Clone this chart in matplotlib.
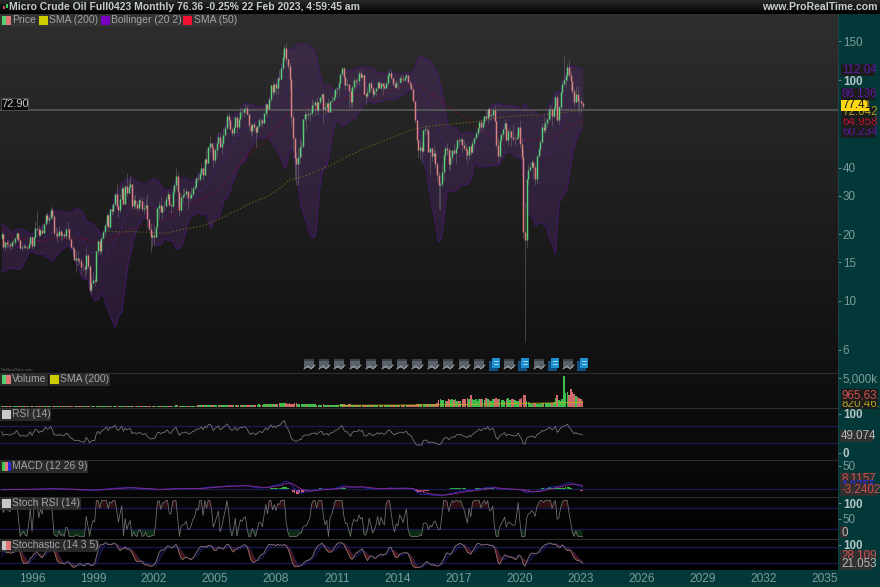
import numpy as np
import matplotlib
matplotlib.use("Agg")
import matplotlib.pyplot as plt
from matplotlib.patches import Rectangle

plt.rcParams['font.family'] = ['Liberation Sans', 'DejaVu Sans']

# ---- history before the visible window (Mar 1983 - Jun 1994), closes only
early_close = [30.6,30.6,30.0,31.0,31.7,31.9,30.3,30.2,29.3,29.2,
 29.7,30.6,30.8,30.4,30.3,29.8,27.9,29.3,29.5,28.2,27.5,26.4,
 26.4,27.5,28.2,27.9,27.9,26.7,27.1,28.0,29.0,30.8,30.2,26.3,
 18.8,13.3,10.4,13.3,14.3,12.8,11.2,15.6,14.8,15.3,15.0,17.9,
 18.0,16.6,18.8,18.7,19.4,20.3,21.3,19.7,19.6,20.2,18.2,16.7,
 17.1,16.1,17.0,17.6,17.4,15.5,16.0,15.2,14.1,13.7,15.4,17.2,
 17.9,17.6,20.5,20.6,19.8,20.3,18.6,19.6,20.2,19.8,20.8,21.8,
 22.7,21.5,20.3,18.6,17.4,17.1,20.7,27.2,39.5,35.2,28.9,28.4,
 21.5,19.2,19.6,20.9,21.2,20.5,21.7,22.4,22.4,23.4,21.5,19.1,
 19.0,19.0,19.6,20.7,21.5,21.6,21.9,21.4,21.7,20.6,19.6,19.5,
 20.3,20.6,20.4,20.5,19.9,18.6,17.6,18.3,17.6,16.9,15.2,14.2,
 15.2,14.7,14.6,16.9,18.3,19.3]

# ---- visible monthly candles, Jul 1994 - Feb 2023
close = [20.0,17.6,18.4,18.2,18.1,17.8,
 18.4,18.5,19.2,20.4,18.9,17.4,17.6,17.8,17.5,17.4,18.2,19.5,
 17.7,19.5,21.5,21.2,19.8,20.9,20.4,22.2,24.4,23.3,23.8,25.9,
 24.2,20.3,20.4,19.7,20.8,19.8,20.1,19.6,21.2,21.1,19.0,17.6,
 17.2,15.4,15.6,15.4,15.2,14.2,14.2,13.9,16.1,14.4,11.2,12.1,
 12.5,12.3,16.8,18.7,16.8,19.3,20.5,22.1,24.5,21.7,26.1,25.6,
 27.6,30.4,26.9,25.7,29.0,32.5,27.4,33.1,30.8,32.7,33.8,26.8,
 28.7,27.4,26.3,28.5,28.4,26.2,26.4,27.2,23.4,21.2,19.4,19.8,
 19.5,21.7,26.3,27.3,25.3,26.9,27.0,28.9,30.5,27.2,26.9,31.2,
 33.5,36.6,31.0,25.8,29.6,30.2,30.5,31.6,29.2,29.1,30.4,32.5,
 33.1,36.2,35.8,37.4,39.9,37.1,43.8,42.1,49.6,51.8,49.1,43.5,
 48.2,51.8,55.4,49.7,52.0,56.5,60.6,69.0,66.2,59.8,57.3,61.0,
 67.9,61.4,66.6,71.9,71.3,73.9,74.4,70.3,62.9,58.7,63.1,61.0,
 58.1,61.8,65.9,65.8,64.0,70.7,78.2,74.0,81.7,94.5,88.7,96.0,
 92.0,101.8,101.6,113.5,127.4,140.0,124.1,115.5,100.6,67.8,54.4,44.6,
 41.7,44.8,49.7,50.4,66.3,69.9,69.5,70.0,70.6,77.0,77.3,79.4,
 72.9,79.7,83.8,86.2,74.0,75.6,78.9,71.9,80.0,81.4,84.1,91.4,
 92.2,97.0,106.7,113.9,102.7,95.4,95.7,88.8,79.2,93.2,100.4,98.8,
 98.5,107.1,103.0,104.9,86.5,85.0,88.1,96.5,92.2,86.2,88.9,91.8,
 97.5,92.1,97.2,93.5,92.0,96.6,105.0,107.7,102.3,96.4,92.7,98.4,
 97.5,102.6,101.6,99.7,102.7,105.4,98.2,96.0,91.2,80.5,66.2,53.3,
 48.2,49.8,47.6,59.6,60.3,59.5,47.1,49.2,45.1,46.6,41.7,37.0,
 33.6,33.8,38.3,45.9,49.1,48.3,41.6,44.7,48.2,46.9,49.4,53.7,
 52.8,54.0,50.6,49.3,48.3,46.0,50.2,47.2,51.7,54.4,57.4,60.4,
 64.7,61.6,64.9,68.6,67.0,74.1,68.8,69.8,73.2,65.3,50.9,45.4,
 53.8,57.2,60.1,63.9,53.5,58.5,58.6,55.1,54.1,54.2,55.2,61.1,
 51.6,44.8,20.5,18.8,35.5,39.3,40.3,42.6,40.2,35.8,45.3,48.5,
 52.2,61.5,59.2,63.6,66.3,73.5,73.9,68.5,75.0,83.6,66.2,75.2,
 88.2,95.7,100.3,104.7,114.7,105.8,98.6,89.6,79.5,86.5,80.6,80.3,
 78.9,76.4]

high = [20.8,20.4,18.6,18.9,18.9,18.4,
 18.9,19.0,19.3,20.6,20.4,19.0,17.9,18.2,18.2,17.8,18.4,19.6,
 19.6,19.6,23.0,25.5,22.0,21.3,22.4,22.4,25.0,25.4,24.5,26.5,
 26.6,24.5,21.7,20.9,21.9,21.0,20.6,20.6,21.4,22.8,21.5,18.8,
 17.8,17.3,16.8,16.9,15.7,15.6,14.9,14.5,17.4,16.4,14.6,13.0,
 13.5,12.8,17.0,18.9,18.8,19.3,20.9,22.6,25.0,24.8,26.2,27.2,
 27.9,30.9,34.1,27.4,30.4,33.4,32.7,33.4,37.8,35.0,36.7,34.0,
 30.2,30.4,28.4,28.9,29.7,29.6,27.8,29.0,30.6,23.4,22.2,20.5,
 22.0,21.9,26.6,28.4,29.4,27.1,28.2,29.8,31.4,30.4,28.1,32.6,
 34.0,39.9,38.2,30.5,30.5,32.4,32.3,32.4,30.0,31.6,32.7,33.2,
 35.2,36.9,38.3,38.6,42.4,40.3,44.4,48.7,50.5,55.6,50.5,46.4,
 49.3,52.0,58.3,57.7,53.4,60.9,62.3,70.8,70.9,64.2,61.2,62.1,
 69.2,68.0,67.2,75.4,74.9,74.0,78.4,76.9,70.2,60.9,63.2,64.6,
 58.9,62.3,68.1,67.0,66.4,70.9,78.8,76.5,83.9,96.2,99.3,96.8,
 100.1,103.0,111.8,119.9,135.1,143.7,147.3,126.0,121.0,102.0,71.0,55.0,
 47.0,49.0,54.7,53.2,66.4,73.4,71.9,75.0,73.2,82.0,80.0,81.4,
 83.9,80.5,84.0,87.1,87.1,79.4,79.4,82.8,80.6,84.9,89.0,91.8,
 92.6,99.5,107.0,114.8,115.0,101.6,100.6,95.4,92.0,94.7,103.4,101.0,
 103.7,109.9,110.5,106.3,106.4,85.9,92.9,98.3,100.4,92.9,90.0,92.0,
 98.2,97.8,97.8,97.2,96.9,99.0,108.9,112.2,110.7,103.0,95.7,100.0,
 98.4,104.0,105.2,104.9,104.2,107.7,105.7,98.0,95.4,92.5,78.9,66.6,
 54.0,54.2,52.5,59.9,62.6,61.9,59.5,49.3,49.0,50.9,48.0,42.6,
 38.4,34.5,41.9,46.8,50.2,51.7,49.0,48.8,48.3,51.9,49.9,54.5,
 55.2,54.9,54.5,53.7,52.0,48.9,50.4,50.2,52.9,55.2,59.0,60.5,
 66.7,66.7,66.6,69.6,72.9,74.5,75.3,71.4,74.0,76.9,65.7,54.6,
 55.8,57.8,60.7,66.6,63.9,60.9,60.9,57.5,63.4,56.9,58.7,61.4,
 65.6,54.7,48.7,28.0,35.9,41.6,42.5,43.7,43.0,41.8,46.0,49.0,
 53.9,63.8,67.9,65.4,67.0,74.4,76.2,73.3,76.0,85.4,84.9,76.9,
 88.8,100.5,130.0,108.0,120.0,123.7,110.0,97.7,92.0,93.6,93.7,83.3,
 82.6,80.6]

low = [19.0,17.2,16.9,17.4,17.5,17.0,
 17.4,18.2,18.0,19.0,18.7,17.2,16.8,17.2,17.3,17.0,17.4,18.2,
 17.2,17.5,19.2,20.8,19.4,19.6,20.2,20.3,22.0,22.6,22.4,23.7,
 23.6,19.8,19.2,18.5,19.7,18.6,19.0,19.2,19.0,20.6,18.9,17.4,
 16.0,15.3,13.5,14.6,14.7,13.3,13.7,12.8,13.3,13.9,11.0,10.7,
 11.9,11.7,12.1,16.1,16.4,16.4,19.0,19.6,21.8,21.0,21.2,24.4,
 24.7,27.0,26.2,23.7,25.0,28.5,27.1,27.5,29.9,31.1,32.6,26.0,
 26.2,26.3,25.6,25.7,26.9,25.6,24.8,25.9,21.5,20.9,16.7,17.5,
 17.9,19.4,21.4,23.5,25.2,23.5,25.6,26.4,28.3,26.9,25.1,26.4,
 30.5,32.2,26.8,24.3,25.2,28.1,29.6,29.6,26.0,28.3,29.5,30.0,
 32.1,32.2,34.8,34.8,37.3,35.3,36.7,41.6,41.7,47.0,45.6,40.3,
 42.1,45.0,51.2,49.0,46.2,52.0,55.3,60.0,62.0,59.5,55.7,56.0,
 60.8,57.5,59.9,66.0,68.5,68.1,71.0,69.4,59.5,56.4,55.9,60.1,
 49.9,57.1,60.5,62.0,61.2,64.0,69.0,69.0,74.0,79.7,86.6,85.5,
 86.1,86.1,98.6,100.5,110.6,122.5,120.4,112.0,90.5,61.8,48.3,35.1,
 33.6,33.6,42.0,45.0,49.4,65.5,59.1,66.5,65.1,69.0,72.4,68.6,
 72.4,69.5,78.0,80.6,64.2,69.5,71.9,71.9,72.8,79.2,81.0,84.6,
 86.8,84.0,96.0,104.6,95.3,90.0,94.0,75.7,74.9,74.9,90.6,92.5,
 96.0,95.4,102.0,101.4,85.6,77.3,83.2,87.4,89.4,84.0,84.0,84.6,
 91.1,91.9,90.2,85.6,91.0,91.2,95.0,103.2,100.6,95.4,91.8,91.8,
 91.2,96.7,97.4,99.2,99.4,101.8,97.5,92.5,90.4,79.8,63.7,52.4,
 44.2,43.6,42.0,47.1,57.0,57.2,47.0,37.7,43.2,43.1,40.0,34.5,
 26.0,26.1,32.8,35.2,43.0,45.8,39.2,39.2,42.5,46.3,42.2,49.9,
 50.7,51.2,47.0,48.2,43.8,42.1,43.6,45.6,46.6,49.1,54.2,55.8,
 59.8,58.1,59.9,62.5,65.6,63.6,66.9,65.8,67.6,64.8,49.4,42.4,
 44.4,52.3,55.0,60.0,52.9,50.7,54.7,50.5,52.8,50.9,55.0,55.3,
 49.3,43.3,19.3,6.5,17.3,34.0,38.7,39.8,36.1,33.6,33.8,44.8,
 46.9,52.0,57.3,57.6,61.2,65.7,65.0,61.7,67.6,74.2,64.4,62.4,
 74.3,86.5,93.5,92.9,99.2,104.6,90.6,86.3,76.3,79.3,73.6,70.1,
 72.5,73.8]

volume_k = [130,140,150,135,150,150,
 155,140,160,150,160,140,150,145,155,140,155,160,
 160,165,170,175,170,165,170,165,175,180,175,180,
 180,175,170,170,175,170,175,170,180,185,175,175,
 180,185,195,190,185,195,190,200,200,195,200,210,
 200,200,220,210,205,200,205,210,210,205,210,200,
 200,210,220,200,200,205,195,205,215,210,205,200,
 200,205,200,205,205,200,205,210,215,220,225,220,
 220,225,230,235,225,220,215,225,230,230,225,230,
 250,260,270,240,230,230,225,230,240,235,230,230,
 240,250,260,260,270,260,265,280,270,285,270,270,
 280,290,310,300,290,310,295,330,310,290,290,290,
 310,320,330,340,350,330,340,350,360,380,370,360,
 400,380,440,420,430,440,480,490,530,580,600,500,
 580,600,620,620,630,660,640,570,620,600,570,620,
 630,600,580,540,520,510,530,540,500,520,480,450,
 420,400,410,430,500,430,400,400,390,410,410,390,
 420,430,460,440,460,430,400,440,440,420,390,360,
 390,400,380,360,400,410,380,370,370,360,340,320,
 340,330,330,370,350,340,360,340,340,360,350,330,
 330,320,320,310,300,300,310,330,340,390,400,440,
 480,500,520,500,460,440,520,580,550,540,570,620,
 1250,1300,1200,1150,1000,1100,1300,1250,1300,1200,1350,1000,
 1000,1050,1400,1300,1450,1500,1300,2100,1400,1200,1350,950,
 1400,1300,1350,1250,1500,1400,1200,1100,1300,1400,1600,1300,
 1350,1150,1200,1100,1400,1500,1250,1300,1300,1150,1050,1000,
 1300,1500,2000,2100,1000,800,650,600,650,700,600,550,
 600,650,700,650,620,680,750,760,800,1500,2100,1200,
 1100,1300,5400,2400,2500,2100,3100,2500,2200,1900,1700,1500,
 1400,965]

axis_years = [1996,1999,2002,2005,2008,2011,2014,2017,2020,2023,2026,2029,2032,2035]
price_ticks = [6,10,15,20,30,40,100,150]
reference_price = 72.90

W, H = 880, 587
TEAL = '#023838'
fig = plt.figure(figsize=(W/100, H/100), dpi=100, facecolor=TEAL)

def panel(x0, y0, x1, y1, **kw):
    return fig.add_axes([x0/W, 1-y1/H, (x1-x0)/W, (y1-y0)/H], **kw)

# backdrop gradient
bg = panel(0, 14, 838, 570, zorder=0)
bg.axis('off')
ramp = np.concatenate([np.linspace(0x2e, 0x10, 358), np.linspace(0x10, 0x00, 198)])
bg.imshow(ramp[:, None], cmap='gray', vmin=0, vmax=255, aspect='auto')

# ---- indicators
n_early = len(early_close)
c_all = np.array(early_close + close, float)
h_all = np.concatenate([early_close, high]).astype(float)
l_all = np.concatenate([early_close, low]).astype(float)
o_all = np.r_[c_all[0], c_all[:-1]]
h_all = np.maximum.reduce([h_all, c_all, o_all])
l_all = np.minimum.reduce([l_all, c_all, o_all])
t_all = 1994.5 + (np.arange(len(c_all)) - n_early) / 12.0

def sma(a, n):
    out = np.full(len(a), np.nan)
    for i in range(len(a)):
        if i >= n - 1:
            w = a[i-n+1:i+1]
            if not np.isnan(w).any():
                out[i] = w.mean()
    return out

def ema(a, n):
    out = np.zeros(len(a))
    out[0] = a[0]
    k = 2/(n+1)
    for i in range(1, len(a)):
        out[i] = a[i]*k + out[i-1]*(1-k)
    return out

sma200 = sma(c_all, 200)
sma50 = sma(c_all, 50)
mid = sma(c_all, 20)
sd = np.array([c_all[max(0, i-19):i+1].std() if i >= 19 else np.nan for i in range(len(c_all))])
upper, lower = mid + 2*sd, mid - 2*sd

d = np.diff(c_all, prepend=c_all[0])
up = np.zeros(len(d)); dn = np.zeros(len(d))
up[14] = d[1:15].clip(min=0).mean(); dn[14] = (-d[1:15]).clip(min=0).mean()
for i in range(15, len(d)):
    up[i] = (up[i-1]*13 + max(d[i], 0))/14
    dn[i] = (dn[i-1]*13 + max(-d[i], 0))/14
rsi = 100*up/(up+dn+1e-9)

macd = ema(c_all, 12) - ema(c_all, 26)
signal = ema(macd, 9)
hist = macd - signal

srsi = np.array([(rsi[i]-rsi[i-13:i+1].min())/(np.ptp(rsi[i-13:i+1])+1e-9)*100 if i >= 28 else np.nan
                 for i in range(len(rsi))])
raw = np.array([(c_all[i]-l_all[i-13:i+1].min())/(h_all[i-13:i+1].max()-l_all[i-13:i+1].min())*100 if i >= 13 else np.nan
                for i in range(len(c_all))])
stoch_k = sma(raw, 3)
stoch_d = sma(stoch_k, 5)

XMIN, XMAX = 1996-32/20.33, 1996+806/20.33
GRAY = '#7f9a9a'
BOLD = '#b4c4c4'

def setup(ax, y0, y1, ticks, labels, bold=(), log=False):
    ax.set_facecolor('none')
    if log:
        ax.set_yscale('log')
    ax.set_xlim(XMIN, XMAX)
    ax.set_ylim(y0, y1)
    for s in ax.spines.values():
        s.set_visible(False)
    ax.xaxis.set_visible(False)
    ax.yaxis.tick_right()
    ax.set_yticks(ticks)
    ax.set_yticklabels(labels)
    if log:
        ax.minorticks_off()
    ax.tick_params(axis='y', which='both', length=2, width=0.6, color=GRAY, labelcolor=GRAY,
                   labelsize=8.4, pad=1.5)
    for lb in ax.get_yticklabels():
        if lb.get_text() in bold:
            lb.set_color(BOLD)
            lb.set_fontweight('bold')

# ---- main price panel
ax = panel(0, 14, 838, 372, zorder=2)
setup(ax, 4.77, 199, price_ticks, [str(v) for v in price_ticks], bold=('100',), log=True)
m = t_all >= 1994.49
t = t_all[m]
ax.fill_between(t, lower[m], upper[m], color='#6a2c90', alpha=0.25, lw=0, zorder=1)
ax.plot(t, upper[m], color='#431768', lw=0.7, zorder=2)
ax.plot(t, lower[m], color='#431768', lw=0.7, zorder=2)
ax.plot(t, mid[m], color='#4a2078', lw=0.6, ls=(0, (5, 4)), zorder=2)
ax.plot(t, sma50[m], color='#7c0f2c', lw=0.7, ls=(0, (1.5, 2)), zorder=2)
ax.plot(t, sma200[m], color='#6c6618', lw=0.7, ls=(0, (1.5, 2)), zorder=2)
ax.axhline(reference_price, color='#5e5e5e', lw=1.1, zorder=2.5)
ax.vlines(t, l_all[m], h_all[m], color='#7c7c7c', lw=0.45, alpha=0.7, zorder=3)
upc = c_all[m] >= o_all[m]
ax.vlines(t[upc], o_all[m][upc], c_all[m][upc], color='#58d078', lw=1.05, zorder=4)
ax.vlines(t[~upc], o_all[m][~upc], c_all[m][~upc], color='#dc8282', lw=1.05, zorder=4)

# ---- volume
axv = panel(0, 373, 838, 407, zorder=2)
vol = np.array(volume_k, float)
setup(axv, 0, 5860, [5000], ['5,000k'])
axv.bar(t[upc], vol[upc], width=1/13, color='#3fbf4f', lw=0)
axv.bar(t[~upc], vol[~upc], width=1/13, color='#cf6a6a', lw=0)
axv.plot(t, sma(vol, 200), color='#b8b020', lw=0.6)

# ---- RSI
axr = panel(0, 407, 838, 459, zorder=2)
setup(axr, -7, 113, [97, 7], ['100', '0'], bold=('100', '0'))
for lv in (70, 30):
    axr.axhline(lv, color='#1a1a55', lw=0.9)
axr.plot(t, rsi[m], color='#7c7c7c', lw=0.55)

# ---- MACD
axm = panel(0, 459, 838, 496, zorder=2)
setup(axm, -14.4, 65, [50], ['50'])
axm.axhline(0, color='#1a1a55', lw=0.9)
hv = hist[m]
axm.bar(t[hv >= 0], hv[hv >= 0], width=1/13, color='#2fbf3f', lw=0)
axm.bar(t[hv < 0], hv[hv < 0], width=1/13, color='#e0606e', lw=0)
axm.plot(t, macd[m], color='#2626b8', lw=0.65)
axm.plot(t, signal[m], color='#8a2a8a', lw=0.65)

# ---- Stoch RSI
axs = panel(0, 496, 838, 538, zorder=2)
setup(axs, -4.2, 112.5, [93, 48.6], ['100', '50'], bold=('100',))
for lv in (80, 20):
    axs.axhline(lv, color='#1a1a55', lw=0.9)
sv = srsi[m]
axs.fill_between(t, 80, sv, where=sv >= 80, color='#30100f', lw=0, interpolate=True)
axs.fill_between(t, 20, sv, where=sv <= 20, color='#0c2c14', lw=0, interpolate=True)
axs.plot(t, sv, color='#747474', lw=0.55)

# ---- Stochastic
axk = panel(0, 538, 838, 570, zorder=2)
setup(axk, -5, 115, [89], ['100'], bold=('100',))
for lv in (80, 20):
    axk.axhline(lv, color='#1a1a55', lw=0.9)
kv, dv = stoch_k[m], stoch_d[m]
axk.fill_between(t, kv, dv, where=kv < dv, color='#4a1616', lw=0, interpolate=True)
axk.fill_between(t, kv, dv, where=kv >= dv, color='#0c0c2a', lw=0, interpolate=True)
axk.plot(t, dv, color='#30309a', lw=0.5, ls=(0, (2, 1.5)))
axk.plot(t, kv, color='#9a7c7c', lw=0.55)

axk.xaxis.set_visible(True)
axk.xaxis.tick_bottom()
axk.set_xticks(axis_years)
axk.set_xticklabels([str(y) for y in axis_years])
axk.tick_params(axis='x', length=0, labelcolor=GRAY, labelsize=8.6, pad=2)

# ---- overlay: header, legends, last-value tags, icons
ov = panel(0, 0, W, H, zorder=5)
ov.set_xlim(0, W); ov.set_ylim(H, 0); ov.axis('off')

for y, col in zip(range(0, 14), np.linspace(0.16, 0.0, 14)):
    ov.add_patch(Rectangle((0, y), W, 1, color=str(col), lw=0))
ov.add_patch(Rectangle((3, 6), 2, 3, color='#d05050', lw=0))
ov.add_patch(Rectangle((5.5, 4), 2, 4, color='#40d060', lw=0))
ov.text(9, 7.2, 'Micro Crude Oil Full0423 Monthly 76.36 -0.25% 22 Feb 2023, 4:59:45 am',
        color='#c4cccc', fontsize=7.5, fontweight='bold', va='center', ha='left')
ov.text(878, 7.2, 'www.ProRealTime.com', color='#c4cccc', fontsize=7.6, fontweight='bold',
        va='center', ha='right')

def legend(y, items):
    for x0, x1, swatch, label in items:
        ov.add_patch(Rectangle((x0, y), x1-x0, 13, color='#363636', alpha=0.75, lw=0))
        k = len(swatch)
        for j, c in enumerate(swatch):
            ov.add_patch(Rectangle((x0+1.5+j*9/k, y+2), 9/k, 9, color=c, lw=0))
        ov.text(x0+12, y+6.2, label, color='#a4a4a4', fontsize=7.45, va='center', ha='left')

legend(14, [(0, 36, ['#55d070', '#e07878'], 'Price'),
            (37, 98, ['#cccc00'], 'SMA (200)'),
            (99, 181, ['#7a00c0'], 'Bollinger (20 2)'),
            (181.5, 237, ['#f01030'], 'SMA (50)')])
legend(373, [(0, 48, ['#55d070', '#e07878'], 'Volume'),
             (48.5, 110, ['#cccc00'], 'SMA (200)')])
legend(408, [(0, 51, ['#c8c8c8'], 'RSI (14)')])
legend(460, [(0, 88, ['#40c850', '#e07878', '#2a2ae0'], 'MACD (12 26 9)')])
legend(497, [(0, 81, ['#c8c8c8'], 'Stoch RSI (14)')])
legend(539, [(0, 99, ['#c8c8c8', '#e07878'], 'Stochastic (14 3 5)')])

ov.add_patch(Rectangle((0.5, 98), 27.5, 12, fc='#0a0a0a', ec='#555555', lw=0.6))
ov.text(1.5, 104.3, '72.90', color='#c8c8c8', fontsize=8.0, va='center', ha='left')

# tags stack: each later tag hides the earlier ones, as in the reference
stack = [10]
def tag(x, y, text, col, fc='#1c1c1c', x1=875):
    stack[0] += 2
    ov.add_patch(Rectangle((x-1, y-6), x1-x+1, 12, color=fc, lw=0, zorder=stack[0]))
    ov.text(x, y+0.3, text, color=col, fontsize=8.4, va='center', ha='left', zorder=stack[0]+1)

tag(842, 132, '60.234', '#5a1a9e')
tag(842, 122, '64.958', '#c01030')
tag(842, 112, '72.042', '#a8a020')
tag(842, 70, '112.04', '#5a1a9e')
tag(842, 94, '86.136', '#5a1a9e')
stack[0] += 2
ov.add_patch(Rectangle((841, 99.5), 28, 11, color='#ffd814', lw=0, zorder=stack[0]))
ov.text(842, 105.3, '77.41', color='#111111', fontsize=8.4, va='center', ha='left', zorder=stack[0]+1)
tag(842, 403, '820,46.', '#a8a020', x1=878)
tag(842, 395, '965,63.', '#d05050', x1=878)
tag(841, 436, '49.074', '#b8b8b8', fc='#303030', x1=873)
tag(841, 479, '8.1157', '#d05050', fc='#303030', x1=873)
tag(841, 486, '4.8755', '#2a2ae0', fc='#303030', x1=873)
tag(841, 490, '-3.2402', '#d05050', fc='#303030', x1=877)
tag(841, 532.3, '0', '#b8b8b8', fc='#303030', x1=847)
tag(841, 556, '28.109', '#d05050', fc='#303030', x1=873)
tag(841, 564, '21.053', '#b8b8b8', fc='#303030', x1=873)

ov.text(1, 370, 'ProRealTime.com', color='#666666', fontsize=3.0, va='center', ha='left')

gray_icons = [309, 324, 339, 355, 371, 387, 402, 417, 433, 448, 464, 479, 509, 539, 568]
blue_icons = [495, 524, 554, 583]
for x in gray_icons:
    ov.add_patch(Rectangle((x-5, 359), 10, 2, color='#3a4048', lw=0))
    ov.add_patch(Rectangle((x-5, 361), 10, 7, color='#5a6068', lw=0))
    ov.plot([x-5, x-1, x+2, x+6], [369, 366, 369, 365], color='#a6acb2', lw=0.7)
for x in blue_icons:
    ov.add_patch(Rectangle((x-6, 361), 9, 10, color='#12507f', lw=0))
    ov.add_patch(Rectangle((x-3, 358), 8, 10, color='#1e90d0', lw=0))
    ov.plot([x-1.5, x+3], [361, 361], color='#d8f0ff', lw=0.5)
    ov.plot([x-1.5, x+3], [364, 364], color='#d8f0ff', lw=0.5)

# separators
for y in (372.5, 407.5, 459.5, 496.5, 538.5):
    ov.plot([0, 838], [y, y], color='#2e2e2e', lw=0.8)
ov.plot([838, 838], [14, 570], color='#1a4a4a', lw=0.6)

fig.savefig('out.png', dpi=100, facecolor=fig.get_facecolor())
